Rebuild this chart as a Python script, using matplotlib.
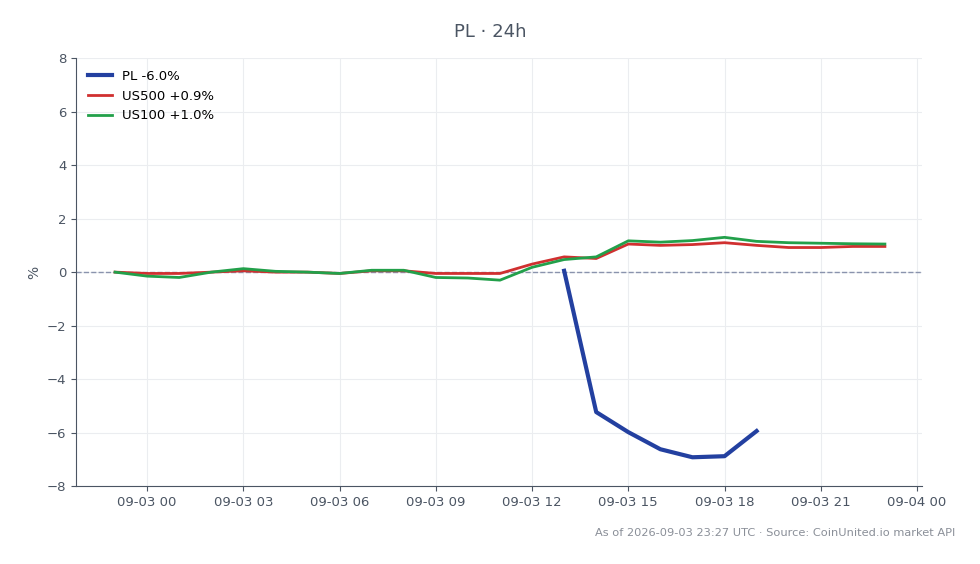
import matplotlib
matplotlib.use("Agg")
import matplotlib.pyplot as plt
import matplotlib.dates as mdates
import numpy as np
import pandas as pd

# hourly timestamps, 09-02 23:00 to 09-03 23:00
times = pd.date_range("2026-09-02 23:00", "2026-09-03 23:00", freq="h")

us500 = [0.0, -0.05, -0.05, 0.0, 0.05, 0.0, 0.0, -0.05, 0.05, 0.05, -0.05, -0.05, -0.05,
         0.3, 0.57, 0.51, 1.05, 1.0, 1.03, 1.1, 1.0, 0.92, 0.92, 0.96, 0.96]
us100 = [0.0, -0.15, -0.2, 0.0, 0.13, 0.03, 0.0, -0.05, 0.07, 0.07, -0.2, -0.22, -0.3,
         0.18, 0.47, 0.57, 1.17, 1.12, 1.18, 1.3, 1.15, 1.1, 1.08, 1.06, 1.05]

pl_times = pd.date_range("2026-09-03 13:00", "2026-09-03 19:00", freq="h")
pl = [0.05, -5.23, -5.98, -6.62, -6.92, -6.88, -5.94]

fig = plt.figure(figsize=(9.8, 5.64), dpi=100)
ax = fig.add_axes([0.0776, 0.138, 0.863, 0.759])

ax.plot(times, us500, color="#d03030", linewidth=2, label="US500 +0.9%", zorder=3)
ax.plot(times, us100, color="#22a04a", linewidth=2, label="US100 +1.0%", zorder=3)
ax.plot(pl_times, pl, color="#2340a0", linewidth=3, label="PL -6.0%", zorder=4)
ax.axhline(0, color="#8a93ad", linestyle="--", linewidth=1, zorder=2)

ax.set_ylim(-8, 8)
ax.set_yticks(np.arange(-8, 9, 2))
ax.set_xlim(pd.Timestamp("2026-09-02 21:47"), pd.Timestamp("2026-09-04 00:09"))
ax.xaxis.set_major_locator(mdates.HourLocator(byhour=[0, 3, 6, 9, 12, 15, 18, 21]))
ax.xaxis.set_major_formatter(mdates.DateFormatter("%m-%d %H"))

ax.grid(True, color="#ebedf0", linewidth=0.8)
ax.set_axisbelow(True)
for s in ["top", "right"]:
    ax.spines[s].set_visible(False)
for s in ["left", "bottom"]:
    ax.spines[s].set_color("#4b5563")
ax.tick_params(colors="#4b5563", labelsize=9.5)
ax.set_ylabel("%", color="#4b5563", fontsize=10)

handles, labels = ax.get_legend_handles_labels()
order = [2, 0, 1]
ax.legend([handles[i] for i in order], [labels[i] for i in order],
          loc="upper left", frameon=False, fontsize=9.5, handlelength=1.8)

fig.suptitle("PL · 24h", y=0.96, fontsize=13, color="#4b5563")
fig.text(0.975, 0.055, "As of 2026-09-03 23:27 UTC · Source: CoinUnited.io market API",
         ha="right", va="center", fontsize=8.2, color="#8a8f98")

fig.savefig("out.png", dpi=100)
